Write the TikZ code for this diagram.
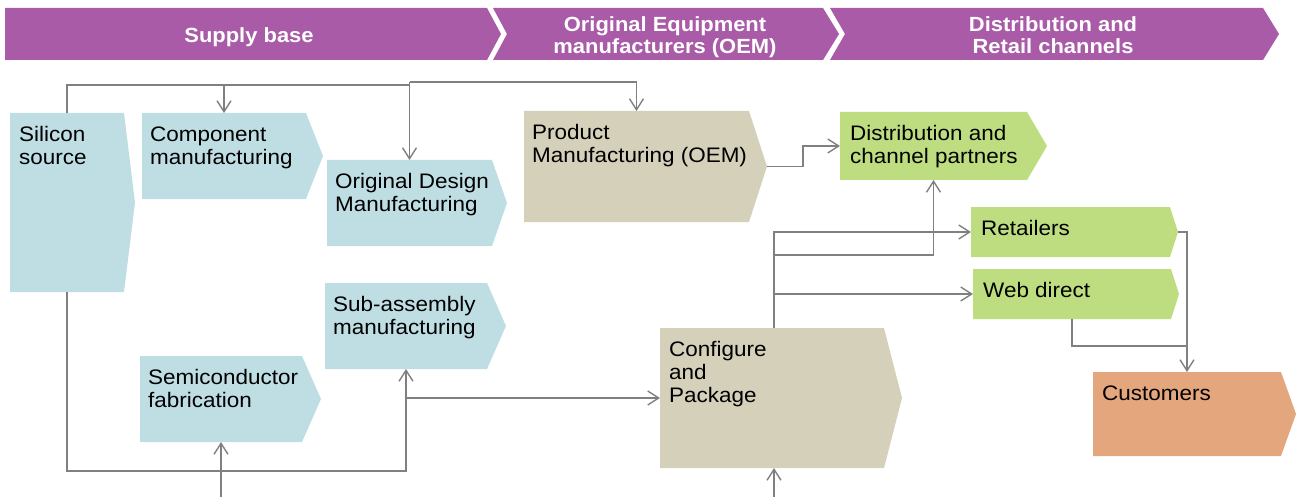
\documentclass[tikz,border=0pt]{standalone}
\usepackage{fontspec}
\setmainfont{Liberation Sans}[FakeStretch=1.07]
\usetikzlibrary{arrows.meta}

\definecolor{bannerpurple}{RGB}{169,91,168}
\definecolor{supplyblue}{RGB}{191,222,227}
\definecolor{oemtan}{RGB}{212,208,186}
\definecolor{retailgreen}{RGB}{190,221,128}
\definecolor{custsalmon}{RGB}{227,166,125}
\definecolor{linegray}{RGB}{128,128,128}

% strut fixing the height of the first text line
\newcommand\tstrut{\rule{0pt}{16pt}}

% process box: rectangle with a pointed right side
% #1 name, #2 left, #3 top, #4 right corner, #5 tip, #6 bottom, #7 fill
\newcommand\procbox[7]{%
  \node[frame, minimum width={#4-#2}, minimum height={#6-#3}] (#1) at ({(#2+#4)/2},{(#3+#6)/2}) {};
  \fill[#7] (#1.north west) -- (#1.north east) -- (#5,{(#3+#6)/2}) -- (#1.south east) -- (#1.south west) -- cycle;
}

\begin{document}
\begin{tikzpicture}[x=1pt,y=-1pt,
  conn/.style={draw=linegray, line width=1.4pt,
    -{Straight Barb[length=11pt,width=14pt,line width=1.4pt]}},
  plain/.style={draw=linegray, line width=1.4pt},
  frame/.style={shape=rectangle, inner sep=0pt, outer sep=0pt, draw=none},
  lbl/.style={anchor=north west, inner sep=0pt, align=left,
    font=\fontsize{21}{23}\selectfont, text=black},
  bantext/.style={inner sep=0pt, align=center, text=white,
    font=\bfseries\fontsize{20.5}{22}\selectfont}]

\useasboundingbox (0,0) rectangle (1297,497);

% stage banner
\fill[bannerpurple] (5,8) -- (487,8) -- (501,34) -- (487,60) -- (5,60) -- cycle;
\fill[bannerpurple] (493,8) -- (823,8) -- (839,34) -- (823,60) -- (493,60) -- (507,34) -- cycle;
\fill[bannerpurple] (830,8) -- (1263,8) -- (1279,34) -- (1263,60) -- (830,60) -- (845,34) -- cycle;
\node[bantext, anchor=base] (stage1) at (249,43) {Supply base};
\node[bantext, anchor=north] (stage2) at (665,15) {\tstrut Original Equipment\\manufacturers (OEM)};
\node[bantext, anchor=north] (stage3) at (1053,15) {\tstrut Distribution and\\Retail channels};

% process boxes
\procbox{sil}{10}{113}{124}{135}{292}{supplyblue}
\procbox{comp}{142}{113}{306}{323}{199}{supplyblue}
\procbox{odm}{327}{160}{492}{507}{246}{supplyblue}
\procbox{sub}{325}{283}{487}{506}{369}{supplyblue}
\procbox{semi}{140}{356}{302}{321}{442}{supplyblue}
\procbox{prod}{524}{111}{749}{767}{222}{oemtan}
\procbox{cfg}{660}{328}{884}{902}{468}{oemtan}
\procbox{dist}{840}{112}{1027}{1047}{180}{retailgreen}
\procbox{ret}{971}{207}{1170}{1178}{257}{retailgreen}
\procbox{web}{973}{269}{1171}{1179}{319}{retailgreen}
\procbox{cust}{1093}{372}{1281}{1296}{456}{custsalmon}

% box labels
\node[lbl] (silT)  at ([shift={(9pt,-12pt)}]sil.north west)  {\tstrut Silicon\\source};
\node[lbl] (compT) at ([shift={(8pt,-12pt)}]comp.north west) {\tstrut Component\\manufacturing};
\node[lbl] (odmT)  at ([shift={(8pt,-12pt)}]odm.north west)  {\tstrut Original Design\\Manufacturing};
\node[lbl] (subT)  at ([shift={(8pt,-12pt)}]sub.north west)  {\tstrut Sub-assembly\\manufacturing};
\node[lbl] (semiT) at ([shift={(8pt,-12pt)}]semi.north west) {\tstrut Semiconductor\\fabrication};
\node[lbl] (prodT) at ([shift={(8pt,-12pt)}]prod.north west) {\tstrut Product\\Manufacturing (OEM)};
\node[lbl] (cfgT)  at ([shift={(9pt,-12pt)}]cfg.north west)  {\tstrut Configure\\and\\Package};
\node[lbl] (distT) at ([shift={(10pt,-12pt)}]dist.north west) {\tstrut Distribution and\\channel partners};
\node[lbl] (retT)  at ([shift={(10pt,-12pt)}]ret.north west)  {\tstrut Retailers};
\node[lbl] (webT)  at ([shift={(10pt,-12pt)}]web.north west)  {\tstrut Web direct};
\node[lbl] (custT) at ([shift={(9pt,-12pt)}]cust.north west) {\tstrut Customers};

% free ends and bend levels
\coordinate (toprail) at (sil.north |- 0,85);
\coordinate (oemrail) at (odm.north |- 0,82);
\coordinate (botrail) at (0,471);
\coordinate (floor) at (0,497);

% supply flows
\draw[conn] (sil.north) -- (toprail) -| (comp.north);
\draw[plain] (toprail) -- (odm.north |- toprail);
\draw[conn] (oemrail) -- (odm.north);
\draw[conn] (oemrail) -| (prod.north);
\draw[conn] (sil.south) -- (sil.south |- botrail) -| (sub.south);
\draw[conn] (sub.south |- cfg.west) -- (cfg.west);
\draw[conn] (semi.south |- floor) -- (semi.south);
\draw[conn] ([xshift=2pt]cfg.south |- floor) -- ([xshift=2pt]cfg.south);

% OEM to channels
\draw[conn] ([xshift=18pt]prod.east) -- ++(36,0) |- (dist.west);
\draw[conn] ([xshift=2pt]cfg.north) |- (ret.west);
\draw[conn] ([xshift=2pt]cfg.north |- 0,255) -| (dist.south);
\draw[conn] ([xshift=2pt]cfg.north |- web.west) -- (web.west);

% channels to customers
\draw[conn] ([xshift=8pt]ret.east) -| (cust.north);
\draw[plain] (web.south) |- (cust.north |- 0,346);

\end{tikzpicture}
\end{document}
